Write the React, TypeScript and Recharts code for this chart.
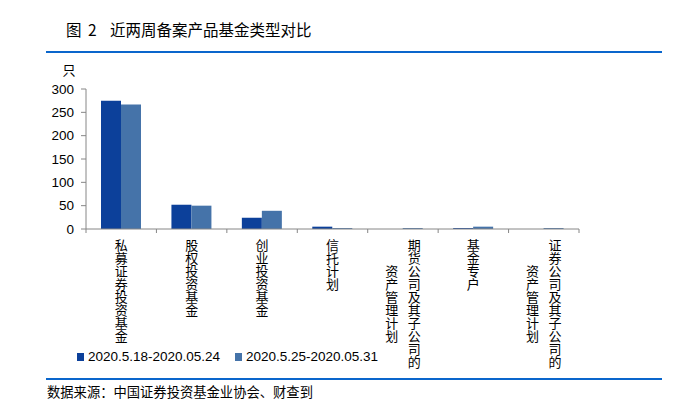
import React from 'react';
import { BarChart, Bar, XAxis, YAxis } from 'recharts';

const categories = [
  '私募证券投资基金',
  '股权投资基金',
  '创业投资基金',
  '信托计划',
  '期货公司及其子公司的资产管理计划',
  '基金专户',
  '证券公司及其子公司的资产管理计划',
];
const labelLines: string[][] = [
  ['私募证券投资基金'],
  ['股权投资基金'],
  ['创业投资基金'],
  ['信托计划'],
  ['期货公司及其子公司的', '资产管理计划'],
  ['基金专户'],
  ['证券公司及其子公司的', '资产管理计划'],
];
const series1 = [275, 52, 24, 5, 0, 2, 0];
const series2 = [267, 50, 39, 2, 2, 5, 2];
const seriesNames = ['2020.5.18-2020.05.24', '2020.5.25-2020.05.31'];
const yTicks = [0, 50, 100, 150, 200, 250, 300];
const unitLabel = '只';
const titleFig = '图 2';
const titleText = '近两周备案产品基金类型对比';
const sourceText = '数据来源：中国证券投资基金业协会、财查到';

const COLORS = ['#0C409A', '#4573A9'];
const AXIS = '#868686';
const LINE_BLUE = '#0A66CC';
const LATIN = '"Liberation Sans", Arial, "Noto Sans CJK SC", sans-serif';
const CJK = '"Noto Sans CJK SC", "Liberation Sans", sans-serif';

const data = categories.map((name, i) => ({ name, s1: series1[i], s2: series2[i] }));

const XTick = (props: any) => {
  const { x, y, payload, index } = props;
  const half = payload && typeof payload.offset === 'number' && payload.offset > 0 ? payload.offset : 35.3;
  const lines = labelLines[index] || [String(payload.value)];
  const maxLen = Math.max(...lines.map((l) => l.length));
  const pitch = 13;
  const colGap = 22.5;
  const n = lines.length;
  const centerY = y + 10 + (maxLen * pitch) / 2;
  return (
    <g>
      <line x1={x - half} x2={x - half} y1={y} y2={y + 4} stroke={AXIS} />
      {index === categories.length - 1 && (
        <line x1={x + half} x2={x + half} y1={y} y2={y + 4} stroke={AXIS} />
      )}
      {lines.map((line, j) => (
        <text
          key={j}
          x={x + ((n - 1) / 2 - j) * colGap}
          y={centerY}
          textAnchor="middle"
          fontSize={13}
          fontFamily={CJK}
          fill="#000"
          style={{ writingMode: 'vertical-rl' } as any}
        >
          {line}
        </text>
      ))}
    </g>
  );
};

export default function App() {
  return (
    <div style={{ position: 'absolute', left: 0, top: 0, width: 692, height: 417, background: '#fff', fontFamily: CJK }}>
      <div style={{ position: 'absolute', left: 66, top: 19, fontSize: 15.5, lineHeight: '20px', color: '#000', whiteSpace: 'pre', wordSpacing: 3 }}>
        {titleFig}
      </div>
      <div style={{ position: 'absolute', left: 110, top: 19, fontSize: 15.5, lineHeight: '20px', color: '#000', whiteSpace: 'nowrap' }}>
        {titleText}
      </div>
      <div style={{ position: 'absolute', left: 46, top: 51, width: 616, height: 2, background: LINE_BLUE }} />

      <div style={{ position: 'absolute', left: 0, top: 0 }}>
        <BarChart
          width={692}
          height={417}
          data={data}
          margin={{ top: 89, right: 113, bottom: 158, left: 46 }}
          barSize={20}
          barGap={0}
        >
          <XAxis
            dataKey="name"
            height={30}
            interval={0}
            tickLine={false}
            tickSize={0}
            tickMargin={0}
            axisLine={{ stroke: AXIS }}
            tick={<XTick />}
          />
          <YAxis
            width={40}
            domain={[0, 300]}
            ticks={yTicks}
            interval={0}
            tickSize={5}
            tickMargin={7}
            axisLine={{ stroke: AXIS }}
            tickLine={{ stroke: AXIS }}
            tick={{ fontSize: 13.5, fill: '#000', fontFamily: LATIN }}
          />
          <Bar dataKey="s1" name={seriesNames[0]} fill={COLORS[0]} isAnimationActive={false} />
          <Bar dataKey="s2" name={seriesNames[1]} fill={COLORS[1]} isAnimationActive={false} />
        </BarChart>
      </div>

      <div style={{ position: 'absolute', left: 62.5, top: 61, fontSize: 13, lineHeight: '18px', color: '#000' }}>
        {unitLabel}
      </div>

      {seriesNames.map((name, i) => (
        <div key={name} style={{ position: 'absolute', left: i === 0 ? 77 : 235, top: 348, height: 18, display: 'flex', alignItems: 'center', whiteSpace: 'nowrap' }}>
          <div style={{ width: 7, height: 8, background: COLORS[i], marginRight: 4 }} />
          <span style={{ fontSize: 13.5, lineHeight: '18px', fontFamily: LATIN, color: '#000' }}>{name}</span>
        </div>
      ))}

      <div style={{ position: 'absolute', left: 46, top: 378, width: 616, height: 2, background: LINE_BLUE }} />
      <div style={{ position: 'absolute', left: 47, top: 382.5, fontSize: 13.3, lineHeight: '18px', color: '#000', whiteSpace: 'nowrap' }}>
        {sourceText}
      </div>
    </div>
  );
}
